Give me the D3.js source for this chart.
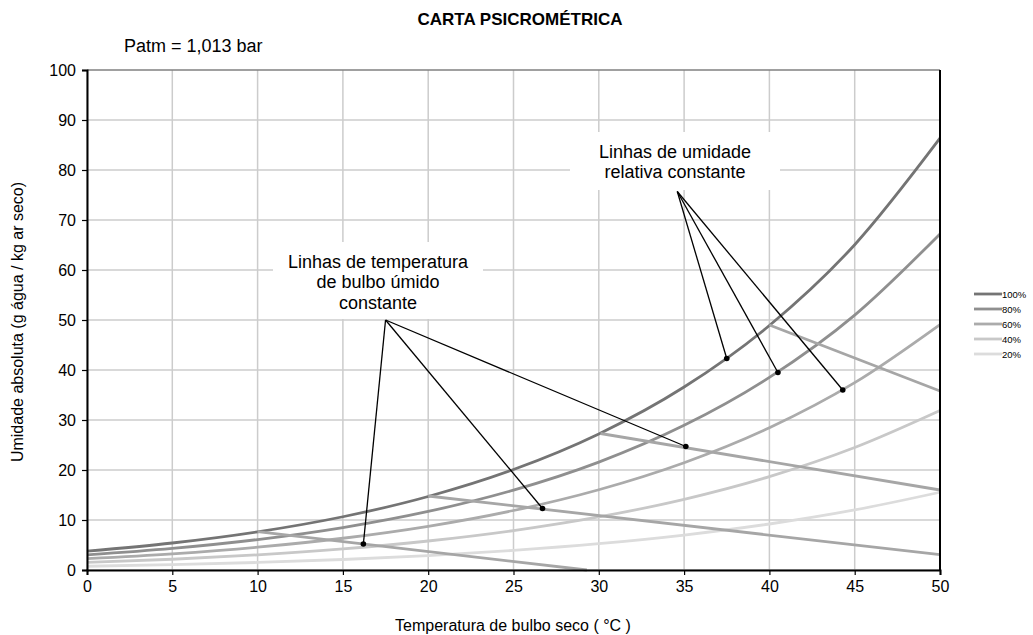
<!DOCTYPE html>
<html><head><meta charset="utf-8">
<script src="https://cdn.jsdelivr.net/npm/d3@7"></script>
<style>body{margin:0;background:#fff;} text{font-family:"Liberation Sans",Arial,sans-serif;}</style>
</head><body><svg id="c" width="1033" height="635"></svg>
<script>
// Dry-bulb temperature (°C)
const temps = [0, 5, 10, 15, 20, 25, 30, 35, 40, 45, 50];
// Absolute humidity (g water / kg dry air) for each relative humidity
const rh100 = [3.78, 5.40, 7.63, 10.65, 14.70, 20.09, 27.21, 36.59, 48.90, 65.06, 86.36];
const rh80  = [3.02, 4.32, 6.09, 8.49, 11.71, 15.97, 21.58, 28.93, 38.52, 50.98, 67.22];
const rh60  = [2.26, 3.23, 4.56, 6.35, 8.74, 11.90, 16.05, 21.45, 28.45, 37.47, 49.09];
const rh40  = [1.51, 2.15, 3.03, 4.22, 5.80, 7.88, 10.61, 14.14, 18.68, 24.49, 31.89];
const rh20  = [0.75, 1.07, 1.51, 2.10, 2.89, 3.92, 5.26, 6.99, 9.20, 12.01, 15.55];
const seriesNames = ["100%", "80%", "60%", "40%", "20%"];
const seriesColors = ["#747474", "#8f8f8f", "#ababab", "#c8c8c8", "#dcdcdc"];
// Constant wet-bulb lines: [T start, w start, T end, w end]
const wetBulb = [
  [10, 7.66, 29.3, 0],
  [20, 14.8, 50, 3.06],
  [30.1, 27.3, 50, 16.0],
  [40, 49.0, 50, 35.8]
];
// Annotation pointers (data units)
const wbApex = [17.5, 50];
const wbDots = [[16.2, 5.2], [26.7, 12.3], [35.1, 24.7]];
const rhApex = [34.6, 75.7];
const rhDots = [[37.5, 42.3], [40.5, 39.5], [44.3, 36.0]];
const xTicks = [0, 5, 10, 15, 20, 25, 30, 35, 40, 45, 50];
const yTicks = [0, 10, 20, 30, 40, 50, 60, 70, 80, 90, 100];

const svg = d3.select("#c");
const X0 = 87, X1 = 940, Y0 = 570, Y1 = 70;
const x = d3.scaleLinear().domain([0, 50]).range([X0, X1]);
const y = d3.scaleLinear().domain([0, 100]).range([Y0, Y1]);

// gridlines
const g = svg.append("g");
g.selectAll(".vg").data(xTicks).join("line")
  .attr("x1", d => x(d)).attr("x2", d => x(d)).attr("y1", Y1).attr("y2", Y0)
  .attr("stroke", "#cccccc").attr("stroke-width", 1.5);
g.selectAll(".hg").data(yTicks).join("line")
  .attr("x1", X0).attr("x2", X1).attr("y1", d => y(d)).attr("y2", d => y(d))
  .attr("stroke", d => d === 100 ? "#808080" : "#cccccc").attr("stroke-width", 1.5);

// curves
const allSeries = [rh100, rh80, rh60, rh40, rh20];
const line = d3.line().x(d => x(d[0])).y(d => y(d[1])).curve(d3.curveMonotoneX);
allSeries.slice().reverse().forEach((s, i) => {
  const idx = allSeries.length - 1 - i;
  svg.append("path").datum(temps.map((t, j) => [t, s[j]]))
    .attr("d", line).attr("fill", "none")
    .attr("stroke", seriesColors[idx]).attr("stroke-width", 2.8);
});

// wet-bulb lines
svg.selectAll(".wb").data(wetBulb).join("line")
  .attr("x1", d => x(d[0])).attr("y1", d => y(d[1]))
  .attr("x2", d => x(d[2])).attr("y2", d => y(d[3]))
  .attr("stroke", "#a6a6a6").attr("stroke-width", 2.8);

// axes frame
svg.append("line").attr("x1", X1).attr("x2", X1).attr("y1", Y1).attr("y2", Y0 + 1).attr("stroke", "#000").attr("stroke-width", 2);
const xa = svg.append("g").attr("transform", `translate(0,${Y0})`)
  .call(d3.axisBottom(x).tickValues(xTicks).tickSize(5).tickPadding(6).tickFormat(d3.format("d")));
const ya = svg.append("g").attr("transform", `translate(${X0},0)`)
  .call(d3.axisLeft(y).tickValues(yTicks).tickSize(5).tickPadding(6).tickFormat(d3.format("d")));
[xa, ya].forEach(a => {
  a.select(".domain").attr("stroke", "#000").attr("stroke-width", 2);
  a.selectAll(".tick line").attr("stroke", "#000").attr("stroke-width", 1.2);
  a.selectAll(".tick text").attr("font-size", 16).attr("fill", "#000")
    .attr("font-family", "Liberation Sans, Arial, sans-serif");
});

// annotation boxes
function box(xa0, xa1, ya0, ya1) {
  svg.append("rect").attr("x", xa0).attr("y", ya0).attr("width", xa1 - xa0).attr("height", ya1 - ya0).attr("fill", "#fff");
}
box(273, 483, 242, 319);
box(570, 780, 132, 190);
const ann = svg.append("g").attr("font-size", 18).attr("fill", "#000").attr("text-anchor", "middle");
["Linhas de temperatura", "de bulbo úmido", "constante"].forEach((t, i) =>
  ann.append("text").attr("x", 378).attr("y", 268 + i * 20.3).text(t));
["Linhas de umidade", "relativa constante"].forEach((t, i) =>
  ann.append("text").attr("x", 675).attr("y", 158 + i * 20.3).text(t));

// pointers
function pointers(apex, dots) {
  dots.forEach(d => {
    svg.append("line").attr("x1", x(apex[0])).attr("y1", y(apex[1]))
      .attr("x2", x(d[0])).attr("y2", y(d[1])).attr("stroke", "#000").attr("stroke-width", 1.3);
    svg.append("circle").attr("cx", x(d[0])).attr("cy", y(d[1])).attr("r", 2.8).attr("fill", "#000");
  });
}
pointers(wbApex, wbDots);
pointers(rhApex, rhDots);

// titles
svg.append("text").attr("x", 520).attr("y", 25).attr("text-anchor", "middle")
  .attr("font-size", 17).attr("font-weight", "bold").text("CARTA PSICROMÉTRICA");
svg.append("text").attr("x", 124).attr("y", 52).attr("font-size", 18).text("Patm = 1,013 bar");
svg.append("text").attr("x", 513).attr("y", 631).attr("text-anchor", "middle")
  .attr("font-size", 16).text("Temperatura de bulbo seco ( °C )");
svg.append("text").attr("transform", "translate(23,322) rotate(-90)").attr("text-anchor", "middle")
  .attr("font-size", 16).text("Umidade absoluta (g água / kg ar seco)");

// legend
const lg = svg.append("g");
seriesNames.forEach((n, i) => {
  const yy = 294 + i * 15;
  lg.append("line").attr("x1", 974).attr("x2", 1002).attr("y1", yy).attr("y2", yy)
    .attr("stroke", seriesColors[i]).attr("stroke-width", 2.8);
  lg.append("text").attr("x", 1002).attr("y", yy + 3.5).attr("font-size", 9.5).text(n);
});
</script></body></html>
